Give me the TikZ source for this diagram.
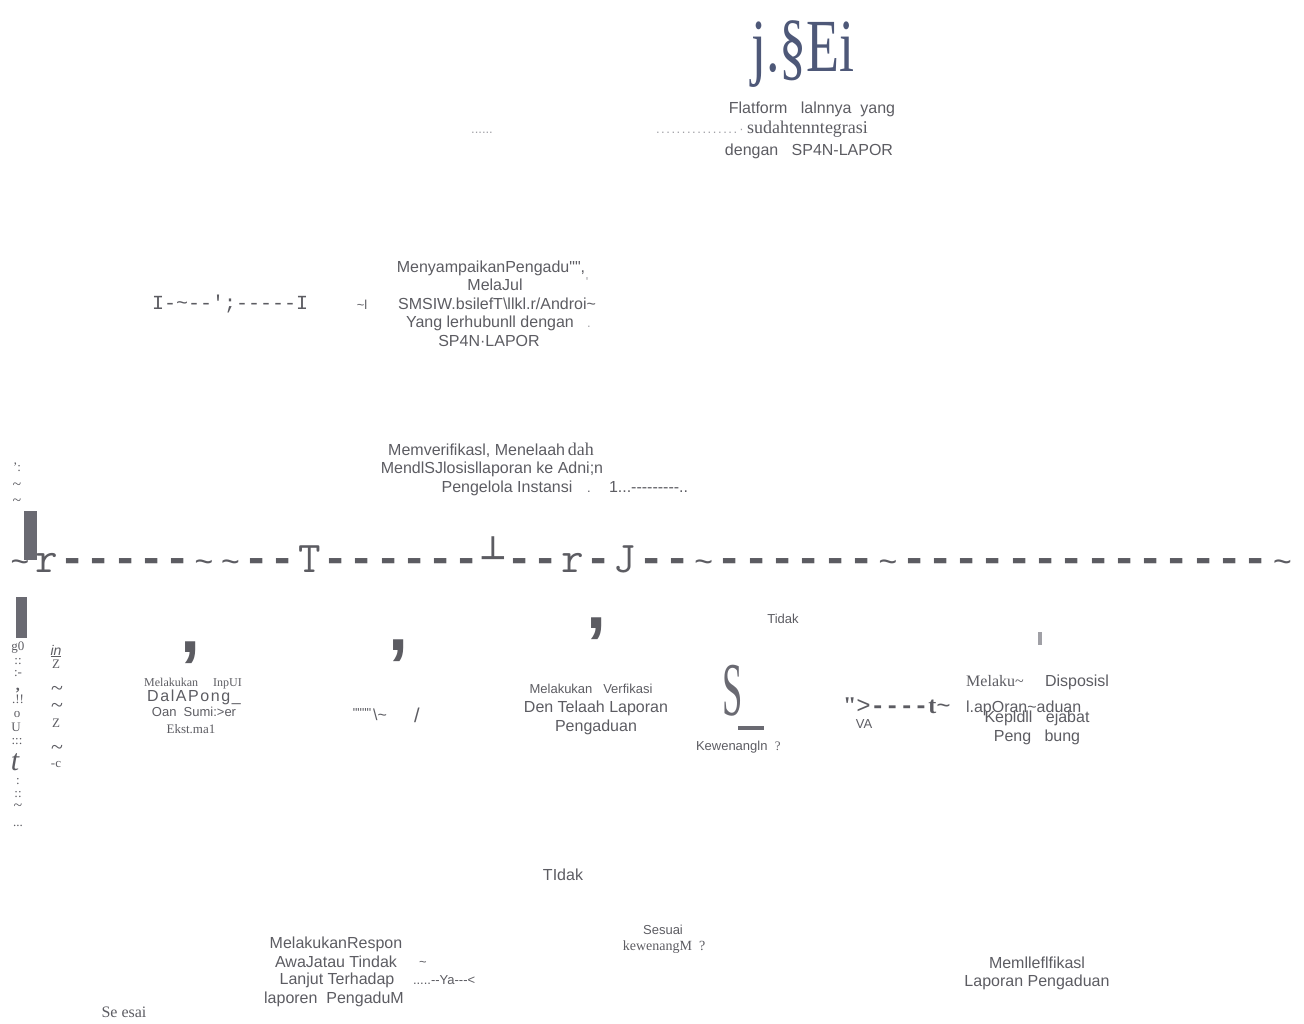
\documentclass[tikz,border=0pt]{standalone}
\usepackage{fontspec}
\setmainfont{Liberation Serif}
\setsansfont{Liberation Sans}
\setmonofont{Liberation Mono}
\newfontfamily\dvmono{DejaVu Sans Mono}
\newfontfamily\lmm{Latin Modern Mono}
\newfontfamily\sfq{Liberation Sans}
\newfontfamily\rmq{Liberation Serif}
\newcommand\tld{\char"7E\relax}
\newcommand\lc[1]{\makebox[26.3pt]{#1}}
\newcommand\ldsh{\lc{\ttfamily\bfseries -}}
\newcommand\ltl{\lc{\fontsize{32}{32}\selectfont\ttfamily\tld}}
\newcommand\lch[1]{\lc{\lmm #1}}
\definecolor{tg}{HTML}{5C5C62}
\definecolor{lg}{HTML}{A0A0A6}
\definecolor{bgray}{HTML}{4E5878}
\definecolor{bar}{HTML}{6A6A72}
\begin{document}
\begin{tikzpicture}[x=1pt,y=-1pt,
  every node/.style={inner sep=0pt,outer sep=0pt,text=tg,anchor=base},
  sf/.style={font=\fontsize{16}{19}\selectfont\sffamily},
  sfs/.style={font=\fontsize{13}{16}\selectfont\sffamily},
  rmf/.style={font=\fontsize{16}{19}\selectfont\rmfamily},
  rms/.style={font=\fontsize{13}{16}\selectfont\rmfamily},
  ttl/.style={font=\fontsize{43.8}{44}\selectfont\ttfamily},
  ttm/.style={font=\fontsize{20}{20}\selectfont\ttfamily},
  cma/.style={font=\fontsize{72}{72}\selectfont\sffamily\bfseries},
  light/.style={text=lg}]
\useasboundingbox (0,0) rectangle (1304,1024);
% top group
\node[font=\fontsize{75}{75}\selectfont\rmfamily,text=bgray] (logo) at (803,72) {\scalebox{0.72}[1]{j.§Ei}};
\node[sf] (f1) at (812,114) {Flatform\ \ \ lalnnya\ \ yang};
\node[sfs,light,anchor=base west] (f2d) at (656,134) {\addfontfeatures{LetterSpace=12}................\,·};
\node[anchor=base west,font=\fontsize{18}{18}\selectfont\rmfamily] (f2) at (747,134) {sudahtenntegrasi};
\node[sf] (f3) at (809,156) {dengan\ \ \ SP4N-LAPOR};
\node[sfs,light] (dl) at (482,134) {......};
% second group
\node[sf] (m1) at (491,273) {MenyampaikanPengadu{\sfq ""},};
\node[sfs,light] (m1b) at (587,287) {{\sfq '}};
\node[sf] (m2) at (495,291) {MelaJul};
\node[sf] (m3) at (497,309) {SMSIW.bsilefT\textbackslash llkl.r/Androi\tld};
\node[sf] (m4) at (490,328) {Yang lerhubunll dengan};
\node[sfs,light] (m4b) at (589,328) {.};
\node[sf] (m5) at (489,347) {SP4N·LAPOR};
\node[ttm,anchor=base west] (ml) at (152,310) {I-\tld--';-----I};
\node[sfs] (mk) at (362,309) {\tld l};
% third group
\node[sf] (v1) at (491,455) {Memverifikasl, Menelaah\,{\rmfamily\fontsize{18}{18}\selectfont dah}};
\node[sf] (v2) at (492,473) {MendlSJlosisllaporan ke Adni;n};
\node[sf] (v3) at (507,492) {Pengelola Instansi};
\node[sfs] (v3b) at (589,492) {.};
\node[sf,anchor=base west] (v3c) at (609,492) {1...-{}-{}-{}-{}-{}-{}-{}-{}-..};
% long line
\node[ttl,anchor=base west] (line) at (6.85,572) {\ltl\lch{r}\ldsh\ldsh\ldsh\ldsh\ldsh\ltl\ltl\ldsh\ldsh\lch{T}\ldsh\ldsh\ldsh\ldsh\ldsh\ldsh\lc{\raisebox{2pt}{\fontsize{36}{36}\selectfont\dvmono ┴}}\ldsh\ldsh\lch{r}\ldsh\lch{J}\ldsh\ldsh\ltl\ldsh\ldsh\ldsh\ldsh\ldsh\ldsh\ltl\ldsh\ldsh\ldsh\ldsh\ldsh\ldsh\ldsh\ldsh\ldsh\ldsh\ldsh\ldsh\ldsh\ldsh\ltl};
\fill[bar] (24,511) rectangle (37,560);
\fill[bar] (16,597) rectangle (27,638);
% left column
\node[rms] (c1a) at (17,471) {':};
\node[rmf] (c1b) at (17,489) {\tld};
\node[rmf] (c1c) at (17,505) {\tld};
\node[rms] (c2a) at (18,650) {g0};
\node[rms] (c2b) at (18,664) {::};
\node[rms] (c2c) at (18,676) {:-};
\node[font=\fontsize{16}{16}\selectfont\rmfamily\bfseries] (c2d) at (18,690) {,};
\node[rms] (c2e) at (18,703) {.!!};
\node[rms] (c2f) at (17,717) {o};
\node[rms] (c2g) at (16,731) {U};
\node[rms] (c2h) at (17,744) {:::};
\node[font=\fontsize{30}{30}\selectfont\rmfamily\itshape] (c2i) at (15,770) {t};
\node[rms] (c2j) at (18,784) {:};
\node[rms] (c2k) at (18,797) {::};
\node[rmf] (c2l) at (18,810) {\tld};
\node[rms] (c2m) at (18,826) {...};
\node[font=\fontsize{14}{14}\selectfont\sffamily\itshape] (c3a) at (56,655) {\underline{in}};
\node[rms] (c3b) at (56,668) {Z};
\node[font=\fontsize{22}{22}\selectfont\rmfamily] (c3c) at (57,695) {\tld};
\node[font=\fontsize{22}{22}\selectfont\rmfamily] (c3d) at (57,712) {\tld};
\node[rms] (c3e) at (56,727) {Z};
\node[font=\fontsize{22}{22}\selectfont\rmfamily] (c3f) at (57,754) {\tld};
\node[rms] (c3g) at (56,767) {-c};
% commas
\node[cma] (k1) at (190,652) {,};
\node[cma] (k2) at (398,650) {,};
\node[cma] (k3) at (596,628) {,};
% input box
\node[font=\fontsize{12}{14}\selectfont\rmfamily] (i1) at (193,686) {Melakukan\ \ \ \ \ InpUI};
\node[sf] (i2) at (194,701) {\addfontfeatures{LetterSpace=10}DalAPong\_};
\node[sfs] (i3) at (194,716) {Oan\ \ Sumi:>er};
\node[rms] (i4) at (191,733) {Ekst.ma1};
\node[sfs] (q1) at (362,717) {{\sfq """"}};
\node[sf] (q2) at (380,720) {\textbackslash\tld};
\node[font=\fontsize{20}{20}\selectfont\sffamily] (q3) at (417,722) {/};
% verification box
\node[sfs] (t1) at (591,693) {Melakukan\ \ \ Verfikasi};
\node[sf] (t2) at (596,712) {Den Telaah Laporan};
\node[sf] (t3) at (596,731) {Pengaduan};
% decision 1
\node[sfs] (d0) at (783,623) {Tidak};
\node[font=\fontsize{76}{76}\selectfont\rmfamily,text=bar] (dS) at (733,715) {\scalebox{0.48}[1]{S}};
\fill[bar] (738,726) rectangle (764,730);
\node[sfs,anchor=base west] (d1) at (696,750) {Kewenangln\ \ {\rmfamily ?}};
% disposition
\node[anchor=base west,font=\fontsize{24}{24}\selectfont\ttfamily] (a1) at (843,713) {{\rmq\bfseries "}>{\bfseries ----}{\rmfamily\bfseries t}\tld};
\node[sf,anchor=base west] (a2) at (966,712) {l.apOran\tld aduan};
\node[sfs] (a3) at (864,728) {VA};
\fill[lg] (1038,632) rectangle (1042,645);
\node[rmf] (p1) at (995,686) {Melaku\tld};
\node[sf] (p2) at (1077,686) {Disposisl};
\node[sf] (p3) at (1037,722) {Kepldll\ \ \ ejabat};
\node[sf] (p4) at (1037,741) {Peng\ \ \ bung};
% bottom
\node[sf] (b0) at (563,880) {TIdak};
\node[sfs] (b1) at (663,934) {Sesuai};
\node[font=\fontsize{14}{16}\selectfont\rmfamily] (b2) at (664,950) {kewenangM\ \ ?};
\node[sf] (r1) at (336,948) {MelakukanRespon};
\node[sf] (r2) at (336,967) {AwaJatau Tindak};
\node[sfs] (r2b) at (423,966) {\tld};
\node[sf] (r3) at (337,984) {Lanjut Terhadap};
\node[sfs,anchor=base west] (r3b) at (413,984) {.....-{}-Ya-{}-{}-<};
\node[sf] (r4) at (334,1003) {laporen\ \ PengaduM};
\node[rmf] (s1) at (124,1017) {Se esai};
\node[sf] (e1) at (1037,968) {Memlleflfikasl};
\node[sf] (e2) at (1037,986) {Laporan Pengaduan};
\end{tikzpicture}
\end{document}
